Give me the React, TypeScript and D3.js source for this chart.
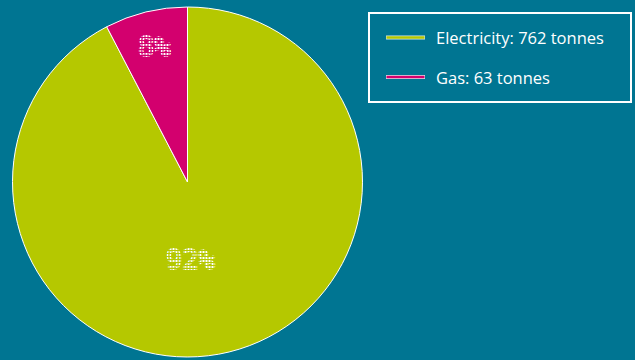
import React from "react";
import * as d3 from "d3";

const categories = ["Electricity", "Gas"];
const values = [762, 63];
const unit = "tonnes";
const colors = ["#b5c800", "#d3006e"];

const W = 635;
const H = 360;
const BG = "#007592";
const CX = 187.5;
const CY = 182;
const R = 175;

export default function App() {
  const total = d3.sum(values);
  const pie = d3.pie<number>().sort(null).value((d) => d);
  const arcs = pie(values);
  const arc = d3.arc<d3.PieArcDatum<number>>().innerRadius(0).outerRadius(R);
  const labelArc = d3.arc<d3.PieArcDatum<number>>().innerRadius(R * 0.8).outerRadius(R * 0.8);

  const labelPos = (a: d3.PieArcDatum<number>): [number, number] => {
    if (a.endAngle - a.startAngle > Math.PI) {
      return [3, R * 0.445];
    }
    return labelArc.centroid(a) as [number, number];
  };

  return (
    <svg width={W} height={H} style={{ position: "absolute", left: 0, top: 0, background: BG }}>
      <defs>
        <pattern id="dots" width="3" height="3" patternUnits="userSpaceOnUse">
          <rect x="0" y="0" width="2" height="2" fill="#ffffff" />
        </pattern>
      </defs>
      <rect x={0} y={0} width={W} height={H} fill={BG} />
      <g transform={`translate(${CX},${CY})`}>
        {arcs.map((a, i) => (
          <path key={categories[i]} d={arc(a) || ""} fill={colors[i]} stroke="#ffffff" strokeWidth={1} />
        ))}
        {arcs.map((a, i) => {
          const [x, y] = labelPos(a);
          return (
            <text
              key={"l" + i}
              x={x}
              y={y}
              textAnchor="middle"
              dominantBaseline="central"
              fontFamily="'DejaVu Sans Mono', monospace"
              fontSize={27}
              fill="none"
              stroke="url(#dots)"
              strokeWidth={1.8}
            >
              {Math.round((values[i] / total) * 100) + "%"}
            </text>
          );
        })}
      </g>
      <g>
        <rect x={369} y={13} width={262} height={89} fill="none" stroke="#ffffff" strokeWidth={2} />
        {categories.map((c, i) => {
          const y = 37.5 + i * 39.5;
          return (
            <g key={"lg" + c}>
              <line x1={386} x2={425} y1={y} y2={y} stroke="#d8e6ea" strokeWidth={4} />
              <line x1={386.5} x2={424.5} y1={y} y2={y} stroke={colors[i]} strokeWidth={2.5} />
              <text
                x={436}
                y={y + 6.5}
                fontFamily="'Open Sans', sans-serif"
                fontSize={16.5}
                fill="#ffffff"
              >
                {`${c}: ${values[i]} ${unit}`}
              </text>
            </g>
          );
        })}
      </g>
    </svg>
  );
}
